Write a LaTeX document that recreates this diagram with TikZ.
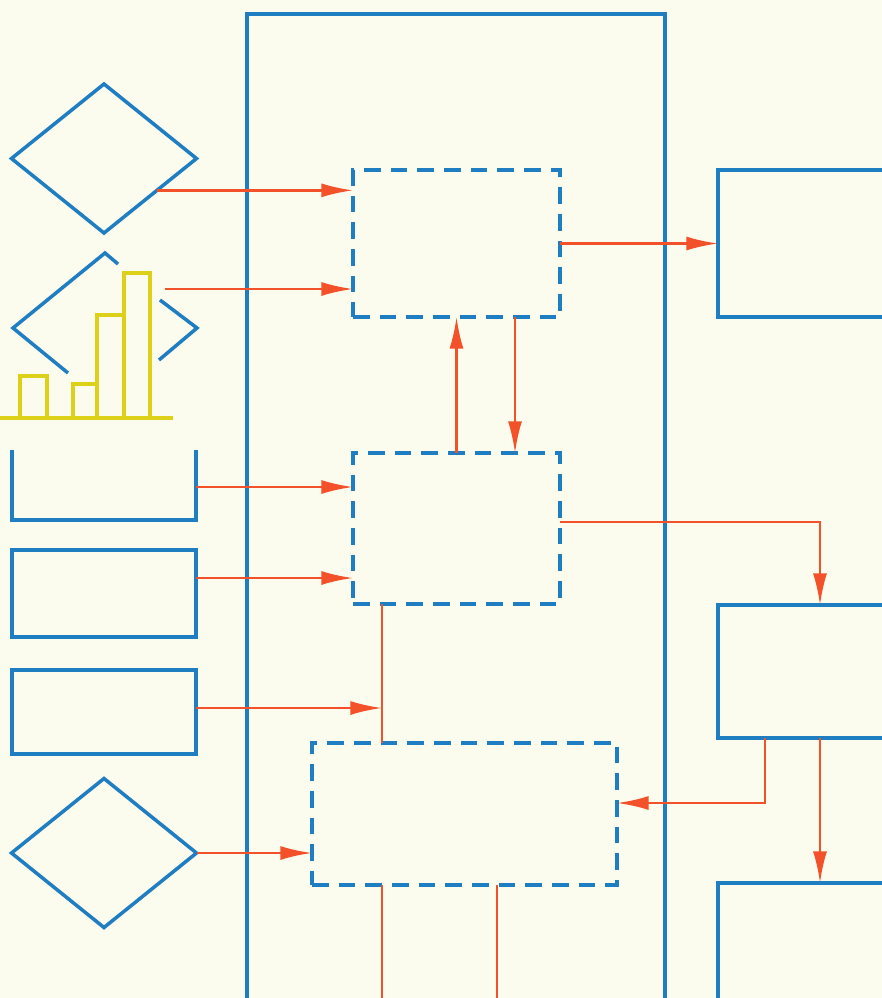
\documentclass[tikz,border=0pt]{standalone}
\usepackage{tikz}
\usetikzlibrary{arrows.meta, shapes.geometric, fit}

\definecolor{paper}{HTML}{FBFBEE}
\definecolor{flowblue}{HTML}{1F7DC1}
\definecolor{flowred}{HTML}{F2512A}
\definecolor{baryellow}{HTML}{DDD018}

\begin{document}
\begin{tikzpicture}[x=0.3mm, y=-0.3mm,
    >={Latex[length=9.5mm, width=4.2mm]},
    solidbox/.style={draw=flowblue, line width=1.05mm, inner sep=0pt, outer sep=0pt},
    dashbox/.style={solidbox, dash pattern=on 5mm off 3mm},
    decision/.style={diamond, draw=flowblue, line width=1.05mm, inner sep=0pt,
        outer sep=0pt, minimum width=55.5mm, minimum height=44.7mm},
    flow/.style={draw=flowred, line width=0.75mm},
    bar/.style={draw=baryellow, line width=1mm}]

    % 1. Papier und Rahmen
    \fill[paper] (0,0) rectangle (882,998);
    \useasboundingbox (0,0) rectangle (882,998);
    \clip (0,0) rectangle (882,998);
    \node[solidbox, fit={(247,14) (665,1030)}] (panel) {};

    % 2. Eingaben links
    \node[decision] (d1) at (104,158.5) {};
    \draw[flowblue, line width=1.05mm] (118,264) -- (105,253) -- (13,328) -- (68,373);
    \draw[flowblue, line width=1.05mm] (160,300) -- (197,328) -- (159,360);
    \coordinate (d2out) at (165,289);
    \draw[bar] (0,418) -- (173,418);
    \draw[bar] (20,418) rectangle (47,376);
    \draw[bar] (73,418) rectangle (97,384);
    \draw[bar] (97,418) rectangle (124,315);
    \draw[bar] (124,418) rectangle (150,273);
    \draw[flowblue, line width=1.05mm] (12,450) -- (12,520) -- (196,520) -- (196,450);
    \coordinate (l1out) at (196,487);
    \node[solidbox, fit={(12,550) (196,637)}] (l2) {};
    \node[solidbox, fit={(12,670) (196,754)}] (l3) {};
    \node[decision] (d3) at (104,853) {};

    % 3. Innere Bloecke (gestrichelt)
    \node[dashbox, fit={(353,170) (560,317)}] (boxA) {};
    \node[dashbox, fit={(353,453) (560,604)}] (boxB) {};
    \node[dashbox, fit={(312,743) (617,885)}] (boxC) {};

    % 4. Ausgaben rechts
    \node[solidbox, fit={(718,170) (922,317)}] (r1) {};
    \node[solidbox, fit={(718,605) (922,738)}] (r2) {};
    \node[solidbox, fit={(718,883) (922,1080)}] (r3) {};

    % 5. Verbindungen
    \coordinate (downx) at (515,0);
    \coordinate (busx) at (382,0);
    \coordinate (busy) at (497,0);
    \coordinate (tapx) at (765,0);
    \coordinate (bot) at (0,1010);
    \draw[flow, ->] (d1.-31) -- (d1.-31 -| boxA.west);
    \draw[flow, ->] (d2out) -- (d2out -| boxA.west);
    \draw[flow, ->] (boxA) -- (r1);
    \draw[flow, ->] (boxB.north) -- (boxA.south);
    \draw[flow, ->] (boxA.south -| downx) -- (boxB.north -| downx);
    \draw[flow, ->] (l1out) -- (l1out -| boxB.west);
    \draw[flow, ->] ([yshift=4.65mm]l2.east) -- ([yshift=4.65mm]l2.east -| boxB.west);
    \draw[flow, ->] ([yshift=1.95mm]boxB.east) -| (r2.north);
    \draw[flow] (boxB.south -| busx) -- (boxC.north -| busx);
    \draw[flow, ->] ([yshift=1.2mm]l3.east) -- ([yshift=1.2mm]l3.east -| busx);
    \draw[flow, ->] (r2.south -| tapx) |- ([yshift=3.3mm]boxC.east);
    \draw[flow, ->] (r2.south) -- (r3.north);
    \draw[flow, ->] (d3.east) -- (d3.east -| boxC.west);
    \draw[flow] (boxC.south -| busx) -- (busx |- bot);
    \draw[flow] (boxC.south -| busy) -- (busy |- bot);
\end{tikzpicture}
\end{document}
